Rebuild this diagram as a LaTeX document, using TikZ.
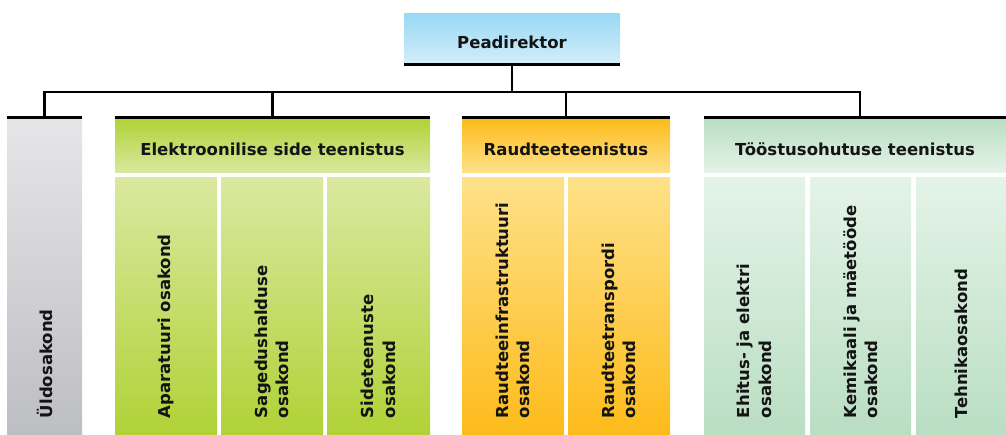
\documentclass[tikz,border=0pt]{standalone}
\usepackage{fontspec}
\setmainfont{DejaVu Sans}
\usetikzlibrary{backgrounds}

\definecolor{bluetop}{HTML}{99D8F4}
\definecolor{bluebot}{HTML}{D3EEFA}
\definecolor{graytop}{HTML}{E6E6E8}
\definecolor{graybot}{HTML}{BDBEC2}
\definecolor{limedark}{HTML}{B0D236}
\definecolor{limelight}{HTML}{DAE8A0}
\definecolor{orangedark}{HTML}{FDBB1A}
\definecolor{orangelight}{HTML}{FEE189}
\definecolor{mintdark}{HTML}{B9DEC2}
\definecolor{mintlight}{HTML}{E4F3E8}

\begin{document}
\begin{tikzpicture}[x=1pt,y=-1pt,
			every node/.style={font=\bfseries\fontsize{16.5}{21.5}\selectfont,text=black!92,inner sep=0pt},
			title/.style={text height=19.5pt,text depth=0pt},
			unit/.style={rectangle,title,minimum height=55pt},
			dept/.style={rectangle,minimum height=257pt,minimum width=102pt},
			vtext/.style={rotate=90,anchor=west,align=left},
			head/.style={top color=bluetop,bottom color=bluebot},
			general/.style={top color=graytop,bottom color=graybot},
			lime head/.style={top color=limedark,bottom color=limelight},
			lime dept/.style={top color=limelight,bottom color=limedark},
			orange head/.style={top color=orangedark,bottom color=orangelight},
			orange dept/.style={top color=orangelight,bottom color=orangedark},
			mint head/.style={top color=mintdark,bottom color=mintlight},
			mint dept/.style={top color=mintlight,bottom color=mintdark},
			link/.style={line width=2.5pt,black},
			rule/.style={line width=3pt,black}
			]
		\useasboundingbox (0,0) rectangle (1006,435);

		% top
		\node [rectangle, title, head, minimum width=216pt, minimum height=50pt] (pd) at (512,39) {Peadirektor};

		% services
		\node [rectangle, general, minimum width=75pt, minimum height=317pt] (uld) at (44.5,276.5) {};
		\node [unit, lime head, minimum width=315pt] (esd) at (272.5,145.5) {Elektroonilise side teenistus};
		\node [unit, orange head, minimum width=208pt] (rdt) at (566,145.5) {Raudteeteenistus};
		\node [unit, mint head, minimum width=302pt] (too) at (855,145.5) {Tööstusohutuse teenistus};

		% departments
		\node [dept, lime dept] (apa) at (166,306.5) {};
		\node [dept, lime dept] (sag) at (272,306.5) {};
		\node [dept, lime dept, minimum width=103pt] (sid) at (378.5,306.5) {};
		\node [dept, orange dept] (rin) at (513,306.5) {};
		\node [dept, orange dept] (rtr) at (619,306.5) {};
		\node [dept, mint dept, minimum width=101pt] (ehi) at (754.5,306.5) {};
		\node [dept, mint dept, minimum width=101pt] (kem) at (860.5,306.5) {};
		\node [dept, mint dept, minimum width=90pt] (teh) at (961,306.5) {};

		\node [vtext] (uldT) at ([yshift=17pt]uld.south) {Üldosakond};
		\node [vtext] (apaT) at ([yshift=17pt]apa.south) {Aparatuuri osakond};
		\node [vtext] (sagT) at ([yshift=17pt]sag.south) {Sagedushalduse\\osakond};
		\node [vtext] (sidT) at ([yshift=17pt]sid.south) {Sideteenuste\\osakond};
		\node [vtext] (rinT) at ([yshift=17pt]rin.south) {Raudteeinfrastruktuuri\\osakond};
		\node [vtext] (rtrT) at ([yshift=17pt]rtr.south) {Raudteetranspordi\\osakond};
		\node [vtext] (ehiT) at ([yshift=17pt]ehi.south) {Ehitus- ja elektri\\osakond};
		\node [vtext] (kemT) at ([yshift=17pt]kem.south) {Kemikaali ja mäetööde\\osakond};
		\node [vtext] (tehT) at ([yshift=17pt]teh.south) {Tehnikaosakond};

		% connectors
		\draw [link] (pd.south) -- ++(0,28) -| (uld.north);
		\draw [link] (pd.south) -- ++(0,28) -| (esd.north);
		\draw [link] (pd.south) -- ++(0,28) -| (rdt.north);
		\draw [link] (pd.south) -- ++(0,28) -| ([xshift=5pt]too.north);

		\draw [rule] (pd.south west) -- (pd.south east);
		\draw [rule] (uld.north west) -- (uld.north east);
		\draw [rule] (esd.north west) -- (esd.north east);
		\draw [rule] (rdt.north west) -- (rdt.north east);
		\draw [rule] (too.north west) -- (too.north east);

		\end{tikzpicture}
\end{document}
